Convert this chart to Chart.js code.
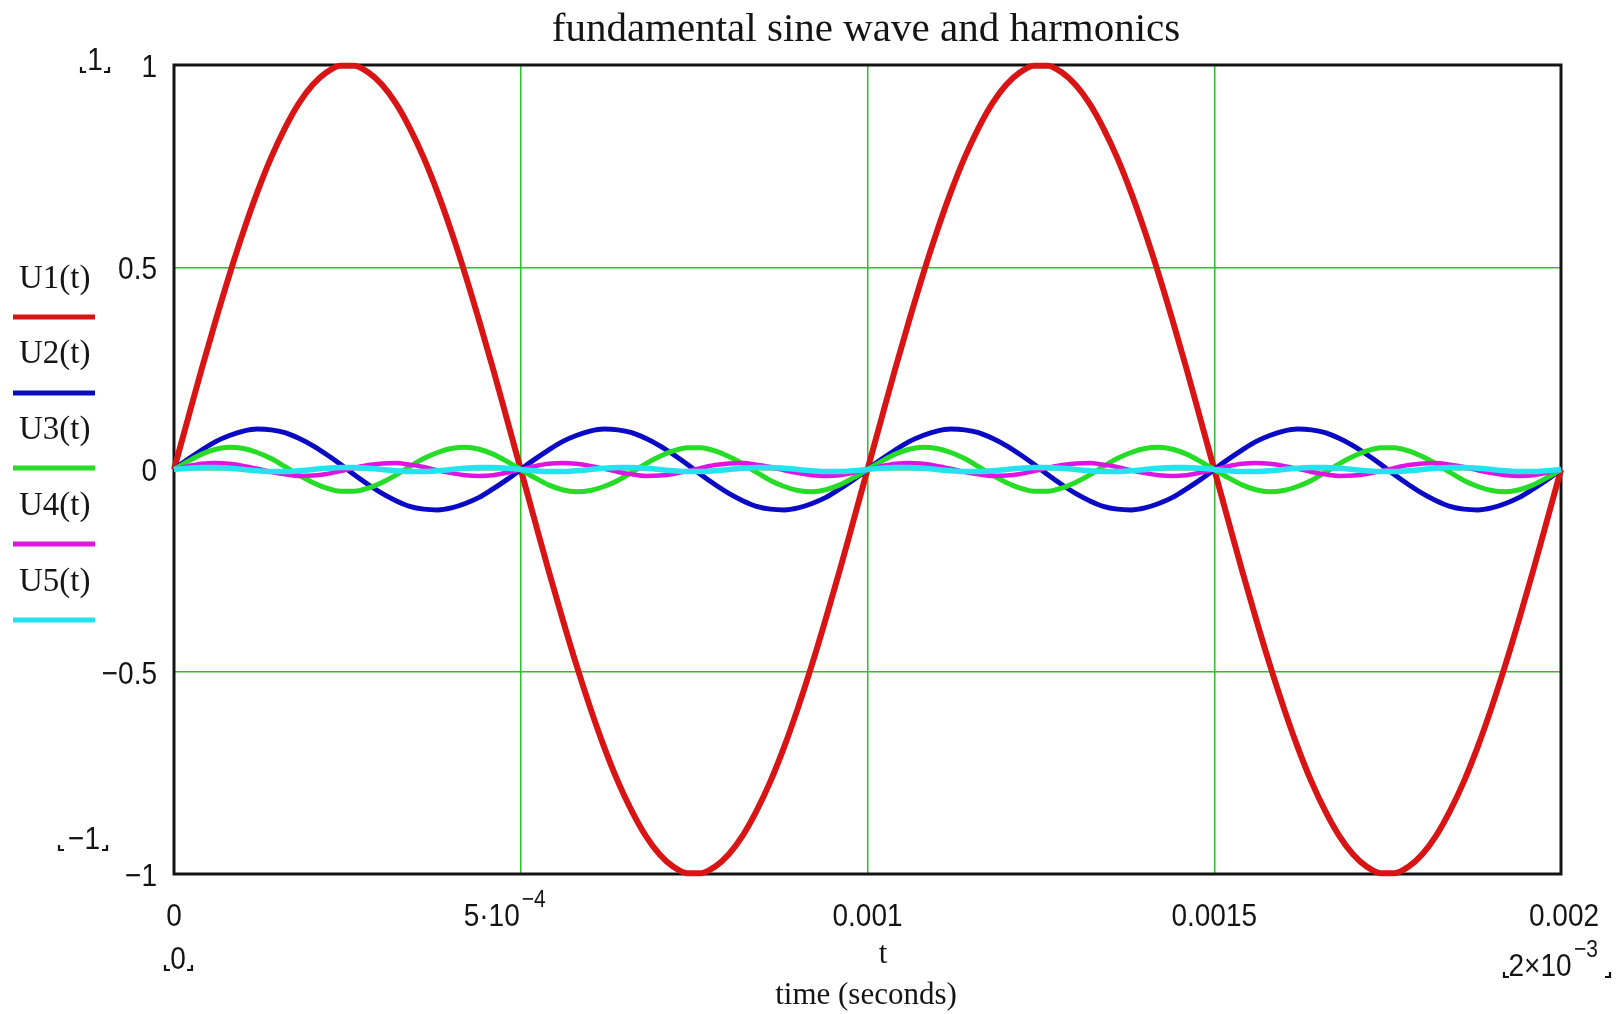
<!DOCTYPE html>
<html><head><meta charset="utf-8">
<script src="https://cdn.jsdelivr.net/npm/chart.js@4/dist/chart.umd.min.js"></script>
<style>html,body{margin:0;padding:0;background:#fff;overflow:hidden}#wrap{width:1620px;height:1014px;position:relative}</style>
</head><body><div id="wrap"><canvas id="c" width="1620" height="1014"></canvas></div>
<script>
// time (seconds)
const t = [0,2e-5,4e-5,6e-5,8e-5,1e-4,1.2e-4,1.4e-4,1.6e-4,1.8e-4,2e-4,2.2e-4,2.4e-4,2.6e-4,2.8e-4,3e-4,3.2e-4,3.4e-4,3.6e-4,3.8e-4,4e-4,4.2e-4,4.4e-4,4.6e-4,4.8e-4,5e-4,5.2e-4,5.4e-4,5.6e-4,5.8e-4,6e-4,6.2e-4,6.4e-4,6.6e-4,6.8e-4,7e-4,7.2e-4,7.4e-4,7.6e-4,7.8e-4,8e-4,8.2e-4,8.4e-4,8.6e-4,8.8e-4,9e-4,9.2e-4,9.4e-4,9.6e-4,9.8e-4,1e-3,1.02e-3,1.04e-3,1.06e-3,1.08e-3,1.1e-3,1.12e-3,1.14e-3,1.16e-3,1.18e-3,1.2e-3,1.22e-3,1.24e-3,1.26e-3,1.28e-3,1.3e-3,1.32e-3,1.34e-3,1.36e-3,1.38e-3,1.4e-3,1.42e-3,1.44e-3,1.46e-3,1.48e-3,1.5e-3,1.52e-3,1.54e-3,1.56e-3,1.58e-3,1.6e-3,1.62e-3,1.64e-3,1.66e-3,1.68e-3,1.7e-3,1.72e-3,1.74e-3,1.76e-3,1.78e-3,1.8e-3,1.82e-3,1.84e-3,1.86e-3,1.88e-3,1.9e-3,1.92e-3,1.94e-3,1.96e-3,1.98e-3,2e-3];

const u1 = [0,.125,.249,.368,.482,.588,.685,.771,.844,.905,.951,.982,.998,.998,.982,.951,.905,.844,.771,.685,.588,.482,.368,.249,.125,0,-.125,-.249,-.368,-.482,-.588,-.685,-.771,-.844,-.905,-.951,-.982,-.998,-.998,-.982,-.951,-.905,-.844,-.771,-.685,-.588,-.482,-.368,-.249,-.125,
0,.125,.249,.368,.482,.588,.685,.771,.844,.905,.951,.982,.998,.998,.982,.951,.905,.844,.771,.685,.588,.482,.368,.249,.125,0,-.125,-.249,-.368,-.482,-.588,-.685,-.771,-.844,-.905,-.951,-.982,-.998,-.998,-.982,-.951,-.905,-.844,-.771,-.685,-.588,-.482,-.368,-.249,-.125,0];

const u2 = [0,.025,.048,.069,.084,.095,.1,.098,.091,.077,.059,.037,.013,-.013,-.037,-.059,-.077,-.091,-.098,-.1,-.095,-.084,-.069,-.048,-.025,
0,.025,.048,.069,.084,.095,.1,.098,.091,.077,.059,.037,.013,-.013,-.037,-.059,-.077,-.091,-.098,-.1,-.095,-.084,-.069,-.048,-.025,
0,.025,.048,.069,.084,.095,.1,.098,.091,.077,.059,.037,.013,-.013,-.037,-.059,-.077,-.091,-.098,-.1,-.095,-.084,-.069,-.048,-.025,
0,.025,.048,.069,.084,.095,.1,.098,.091,.077,.059,.037,.013,-.013,-.037,-.059,-.077,-.091,-.098,-.1,-.095,-.084,-.069,-.048,-.025,0];

const u3 = [0,.02,.038,.05,.055,.052,.042,.027,.007,-.014,-.032,-.046,-.054,-.054,-.046,-.032,-.014,.007,.027,.042,.052,.055,.05,.038,.02,0,-.02,-.038,-.05,-.055,-.052,-.042,-.027,-.007,.014,.032,.046,.054,.054,.046,.032,.014,-.007,-.027,-.042,-.052,-.055,-.05,-.038,-.02,
0,.02,.038,.05,.055,.052,.042,.027,.007,-.014,-.032,-.046,-.054,-.054,-.046,-.032,-.014,.007,.027,.042,.052,.055,.05,.038,.02,0,-.02,-.038,-.05,-.055,-.052,-.042,-.027,-.007,.014,.032,.046,.054,.054,.046,.032,.014,-.007,-.027,-.042,-.052,-.055,-.05,-.038,-.02,0];

const u4 = [0,.008,.014,.016,.014,.009,.002,-.006,-.012,-.016,-.015,-.011,-.004,.004,.011,.015,.016,.012,.006,-.002,-.009,-.014,-.016,-.014,-.008,
0,.008,.014,.016,.014,.009,.002,-.006,-.012,-.016,-.015,-.011,-.004,.004,.011,.015,.016,.012,.006,-.002,-.009,-.014,-.016,-.014,-.008,
0,.008,.014,.016,.014,.009,.002,-.006,-.012,-.016,-.015,-.011,-.004,.004,.011,.015,.016,.012,.006,-.002,-.009,-.014,-.016,-.014,-.008,
0,.008,.014,.016,.014,.009,.002,-.006,-.012,-.016,-.015,-.011,-.004,.004,.011,.015,.016,.012,.006,-.002,-.009,-.014,-.016,-.014,-.008,0];

const u5 = [0,.003,.005,.005,.003,0,-.003,-.005,-.005,-.003,0,.003,.005,.005,.003,0,-.003,-.005,-.005,-.003,
0,.003,.005,.005,.003,0,-.003,-.005,-.005,-.003,0,.003,.005,.005,.003,0,-.003,-.005,-.005,-.003,
0,.003,.005,.005,.003,0,-.003,-.005,-.005,-.003,0,.003,.005,.005,.003,0,-.003,-.005,-.005,-.003,
0,.003,.005,.005,.003,0,-.003,-.005,-.005,-.003,0,.003,.005,.005,.003,0,-.003,-.005,-.005,-.003,
0,.003,.005,.005,.003,0,-.003,-.005,-.005,-.003,0,.003,.005,.005,.003,0,-.003,-.005,-.005,-.003,0];

const seriesNames = ['U1(t)','U2(t)','U3(t)','U4(t)','U5(t)'];
const xTicks = [0, 0.0005, 0.001, 0.0015, 0.002];
const xTickLabels = ['0', '5·10', '0.001', '0.0015', '0.002'];
const yTicks = [1, 0.5, 0, -0.5, -1];
const yTickLabels = ['1', '0.5', '0', '−0.5', '−1'];
const titleText = 'fundamental sine wave and harmonics';
const xAxisVar = 't';
const xAxisTitle = 'time (seconds)';

// ---- styles ----
const series = [u1, u2, u3, u4, u5];
const lineStyles = [
  {color:'#d81414', width:6},
  {color:'#0a0ac4', width:5},
  {color:'#26dc26', width:5},
  {color:'#e014e0', width:4.5},
  {color:'#24e2ee', width:5.5}
];
const GRID = '#2cc02c';
const INK = '#141414';
const SANS = '"Liberation Sans", Arial, sans-serif';
const SERIF = '"Liberation Serif", "Times New Roman", serif';

function txt(ctx, s, x, y, font, align, sy) {
  ctx.save();
  ctx.font = font; ctx.textAlign = align || 'center'; ctx.textBaseline = 'middle';
  ctx.fillStyle = INK;
  ctx.translate(x, y); ctx.scale(1, sy || 1);
  ctx.fillText(s, 0, 0);
  ctx.restore();
}
function corners(ctx, xl, xr, y) {
  ctx.save();
  ctx.strokeStyle = INK; ctx.lineWidth = 2.2;
  ctx.beginPath();
  ctx.moveTo(xl, y - 5); ctx.lineTo(xl, y); ctx.lineTo(xl + 5, y);
  ctx.moveTo(xr - 5, y); ctx.lineTo(xr, y); ctx.lineTo(xr, y - 5);
  ctx.stroke();
  ctx.restore();
}

const decor = {
  id: 'decor',
  beforeDatasetsDraw(chart) {
    const {ctx, chartArea: a} = chart;
    ctx.save();
    ctx.strokeStyle = INK; ctx.lineWidth = 3;
    ctx.strokeRect(a.left, a.top, a.right - a.left, a.bottom - a.top);
    ctx.restore();
  },
  afterDraw(chart) {
    const ctx = chart.ctx;
    const xs = chart.scales.x, ys = chart.scales.y;
    const tickFont = '28px ' + SANS, SY = 1.15;
    // y tick labels
    yTicks.forEach((v, i) => {
      txt(ctx, yTickLabels[i], 157, ys.getPixelForValue(v) + 3, tickFont, 'right', SY);
    });
    // x tick labels
    const ly = 917;
    xTicks.forEach((v, i) => {
      const px = xs.getPixelForValue(v);
      if (i === 1) {
        txt(ctx, xTickLabels[i], px - 1, ly, tickFont, 'right', SY);
        txt(ctx, '−4', px + 1, ly - 17, '21px ' + SANS, 'left', SY);
      } else {
        txt(ctx, xTickLabels[i], px + (i === 4 ? 3 : 0), ly, tickFont, 'center', SY);
      }
    });
    // axis limit annotations (Mathcad placeholders)
    txt(ctx, '1', 95, 61, tickFont, 'center', SY);
    corners(ctx, 81, 109, 72);
    txt(ctx, '−1', 84, 840, tickFont, 'center', SY);
    corners(ctx, 59, 107, 850);
    txt(ctx, '0', 178, 960, tickFont, 'center', SY);
    corners(ctx, 165, 192, 970);
    txt(ctx, '2×10', 1540, 967, tickFont, 'center', SY);
    txt(ctx, '−3', 1574, 950, '21px ' + SANS, 'left', SY);
    corners(ctx, 1504, 1610, 977);
    // title and axis labels
    txt(ctx, titleText, 866, 30, '41px ' + SERIF, 'center');
    txt(ctx, xAxisVar, 883, 955, '31px ' + SERIF, 'center');
    txt(ctx, xAxisTitle, 866, 996, '31px ' + SERIF, 'center');
    // legend
    const labY = [279, 354, 430, 506, 582];
    const linY = [317, 393, 468, 544, 620];
    seriesNames.forEach((n, k) => {
      txt(ctx, n, 19, labY[k], '33px ' + SERIF, 'left');
      ctx.save();
      ctx.strokeStyle = lineStyles[k].color; ctx.lineWidth = 5; ctx.lineCap = 'butt';
      ctx.beginPath(); ctx.moveTo(13, linY[k]); ctx.lineTo(95, linY[k]); ctx.stroke();
      ctx.restore();
    });
  }
};

const datasets = series.map((s, k) => ({
  label: seriesNames[k],
  data: t.map((x, i) => ({x: x, y: s[i]})),
  borderColor: lineStyles[k].color,
  borderWidth: lineStyles[k].width,
  pointRadius: 0,
  fill: false,
  cubicInterpolationMode: 'monotone',
  order: 5 - k,
  clip: 6
}));

new Chart(document.getElementById('c'), {
  type: 'line',
  data: {datasets},
  plugins: [decor],
  options: {
    responsive: false,
    devicePixelRatio: 1,
    animation: false,
    layout: {padding: {left: 174, top: 65, right: 59, bottom: 140}},
    plugins: {legend: {display: false}, tooltip: {enabled: false}, title: {display: false}},
    scales: {
      x: {
        type: 'linear', min: 0, max: 0.002,
        afterBuildTicks: (s) => { s.ticks = xTicks.map(v => ({value: v})); },
        ticks: {display: false},
        grid: {color: GRID, lineWidth: 1.5, drawTicks: false},
        border: {display: false}
      },
      y: {
        type: 'linear', min: -1, max: 1,
        afterBuildTicks: (s) => { s.ticks = yTicks.map(v => ({value: v})); },
        ticks: {display: false},
        grid: {color: GRID, lineWidth: 1.5, drawTicks: false},
        border: {display: false}
      }
    }
  }
});
</script>
</body></html>
